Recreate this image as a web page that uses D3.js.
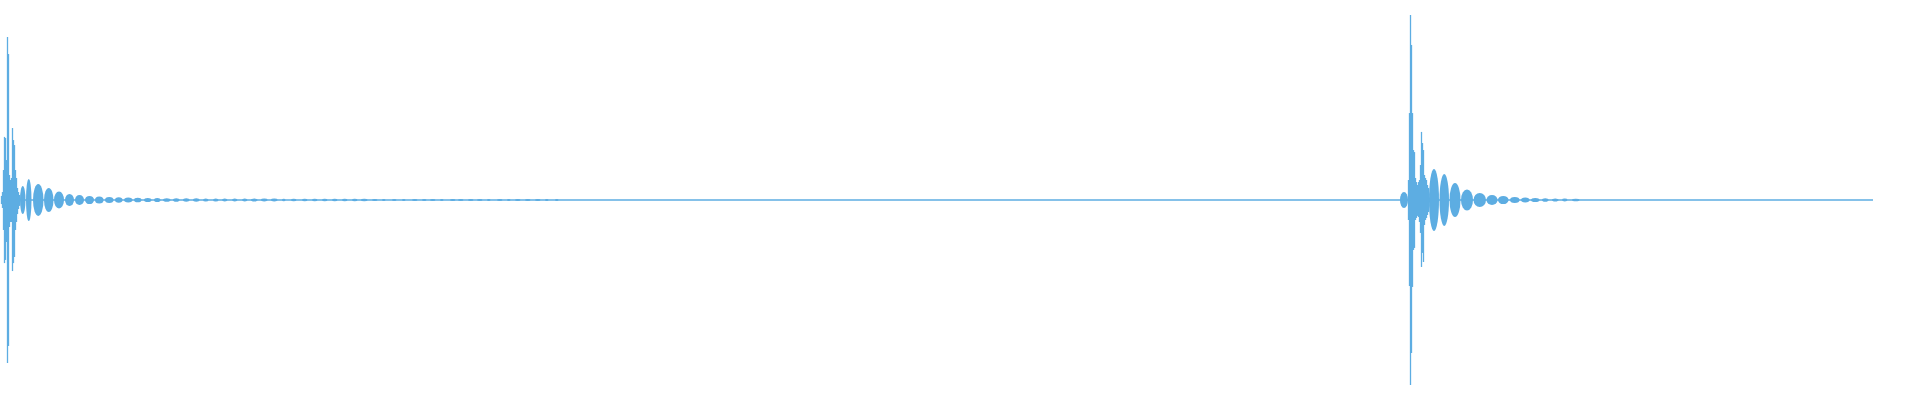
<!DOCTYPE html>
<html>
<head>
<meta charset="utf-8">
<script src="https://cdn.jsdelivr.net/npm/d3@7"></script>
<style>
	html, body { margin: 0; padding: 0; background: #fff; }
	svg { display: block; }
</style>
</head>
<body>
<div id="wave"></div>
<script>
'use strict'

// time span of the clip (sample units) and amplitude range
const timeSpan = [0, 1872]
const ampSpan = [-1, 1]

// first hit: attack columns [t, max, min]
const attackA = [
	[0.5, .022, -.022],
	[1.5, .043, -.043],
	[2.5, .162, -.162],
	[3.5, .341, -.341],
	[4.5, .335, -.324],
	[5.5, .216, -.227],
	[6.5, .881, -.881],
	[7.5, .789, -.789],
	[8.5, .135, -.146],
	[9.5, .108, -.119],
	[10.5, .119, -.119],
	[11.5, .389, -.384],
	[12.5, .324, -.341],
	[13.5, .297, -.308],
	[14.5, .162, -.162],
	[15.5, .119, -.119],
	[16.5, .065, -.076],
	[17.5, .043, -.049],
	[18.5, .027, -.032]
]

// first hit: decay beats [t start, t end, amplitude]
const beatsA = [
	[19, 24.5, .076], [25, 30.5, .114], [32, 42.5, .086], [43, 52.5, .065],
	[53, 63, .046], [64, 73, .032], [74, 83, .027], [84, 93, .022],
	[94, 102.5, .019], [104, 112.5, .016], [114, 121.5, .015], [123, 131.5, .0135],
	[133, 140.5, .0125], [143, 150.5, .011], [153, 159.5, .011], [162, 169.5, .0097],
	[172, 178.5, .0097], [182, 188.5, .0092], [192, 198.5, .0092], [202, 207.5, .0086],
	[212, 217.5, .0086], [221, 226.5, .0081], [231, 236.5, .0081], [241, 246.5, .0081],
	[250, 256.5, .0081], [260, 266.5, .0076], [270, 276.5, .0076], [281, 284.5, .0065],
	[290, 295.5, .0065], [301, 306.5, .0065], [311, 316.5, .0065], [321, 326.5, .0065],
	[331, 336.5, .0065], [341, 346.5, .0065], [351, 356.5, .0065], [360, 366.5, .0065],
	[371, 376.5, .006], [381, 384.5, .006], [391, 395.5, .006], [401, 404.5, .006],
	[411, 416.5, .006], [421, 425.5, .006], [429, 434.5, .006], [439, 442.5, .006],
	[449, 454.5, .006], [457, 462.5, .006], [467, 472.5, .006], [476, 481.5, .006],
	[486, 489.5, .006], [496, 501.5, .006], [506, 509.5, .006], [514, 519.5, .006],
	[524, 529.5, .006], [534, 539.5, .006], [544, 547.5, .006], [554, 557.5, .006]
]

// second hit: attack columns [t, max, min]
const attackB = [
	[1407.5, .108, -.108],
	[1408.5, .47, -.465],
	[1409.5, 1.0, -1.0],
	[1410.5, .838, -.827],
	[1411.5, .47, -.47],
	[1412.5, .27, -.27],
	[1413.5, .259, -.259],
	[1414.5, .119, -.108],
	[1415.5, .097, -.097],
	[1416.5, .081, -.086],
	[1417.5, .097, -.092],
	[1418.5, .108, -.119],
	[1419.5, .189, -.178],
	[1420.5, .368, -.362],
	[1421.5, .308, -.286],
	[1422.5, .27, -.335],
	[1423.5, .135, -.135],
	[1424.5, .119, -.108],
	[1425.5, .108, -.097],
	[1426.5, .081, -.081],
	[1427.5, .065, -.065]
]

// second hit: pre-swell and decay beats [t start, t end, amplitude]
const beatsB = [
	[1399, 1407, .043],
	[1428, 1438, .168], [1438.5, 1448, .14], [1448.5, 1459.5, .092], [1460, 1472, .057],
	[1472.5, 1485, .038], [1485.5, 1496.5, .027], [1497, 1507.5, .022], [1509, 1518.5, .016],
	[1520, 1528.5, .0135], [1530, 1538.5, .011], [1541, 1547.5, .0097], [1551, 1557.5, .0081],
	[1561, 1566.5, .0076], [1571, 1578.5, .007]
]

const waveColor = '#5DADE2'

function drawWave(){
	let width = 1920
	let height = 400

	let svg = d3.select('#wave').append('svg')
		.attr('width', width)
		.attr('height', height)

	let x = d3.scaleLinear().domain(timeSpan).range([1, 1873])
	let y = d3.scaleLinear().domain(ampSpan).range([385, 15])

	// zero line running the whole clip
	svg.append('line')
		.attr('x1', x(timeSpan[0]))
		.attr('x2', x(timeSpan[1]))
		.attr('y1', y(0))
		.attr('y2', y(0))
		.attr('stroke', waveColor)
		.attr('stroke-width', 1.6)

	// each beat of the decay is a bead round the zero line
	svg.selectAll('ellipse.beat')
		.data(beatsA.concat(beatsB))
		.enter().append('ellipse')
		.attr('class', 'beat')
		.attr('cx', function(d){ return (x(d[0]) + x(d[1])) / 2 })
		.attr('cy', y(0))
		.attr('rx', function(d){ return (x(d[1]) - x(d[0])) / 2 })
		.attr('ry', function(d){ return y(0) - y(d[2]) })
		.attr('fill', waveColor)

	let colW = x(1) - x(0)
	svg.selectAll('rect.col')
		.data(attackA.concat(attackB))
		.enter().append('rect')
		.attr('class', 'col')
		.attr('x', function(d){ return x(d[0]) - colW * 0.65 })
		.attr('width', colW * 1.3)
		.attr('y', function(d){ return y(d[1]) })
		.attr('height', function(d){ return y(d[2]) - y(d[1]) })
		.attr('fill', waveColor)
}//drawWave

drawWave()
</script>
</body>
</html>
